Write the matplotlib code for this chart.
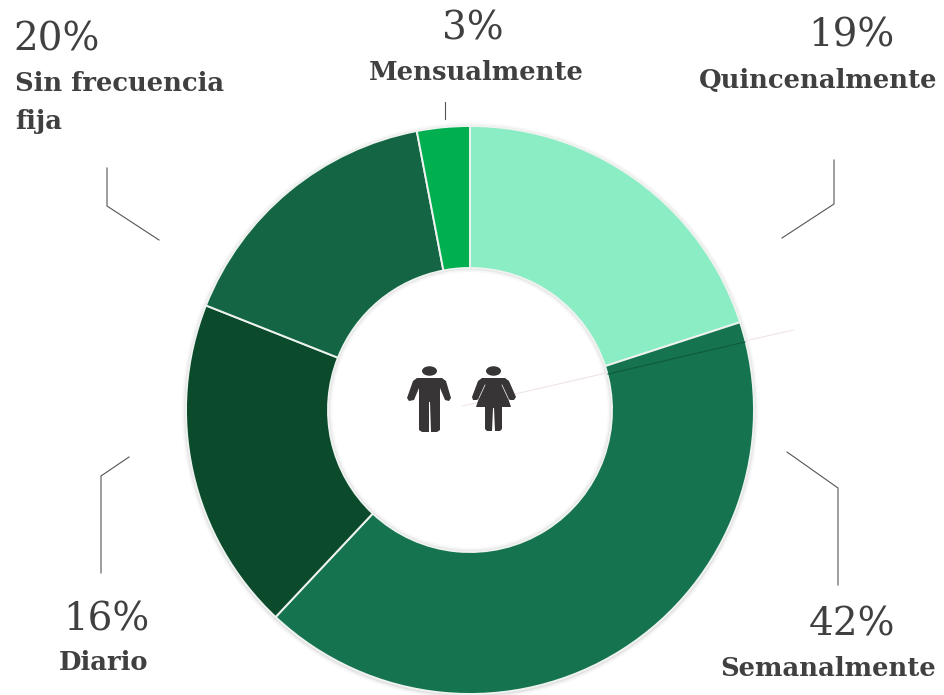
import matplotlib
matplotlib.use("Agg")
import matplotlib.pyplot as plt
from matplotlib.patches import Ellipse, Polygon, Circle

H = 695

# tamaños dibujados de cada sector (no coinciden del todo con los rótulos)
slice_names = ["Quincenalmente", "Semanalmente", "Diario", "Sin frecuencia fija", "Mensualmente"]
slice_values = [20, 42, 19, 16, 3]
slice_colors = ["#8BEDC4", "#167350", "#0C4A2C", "#136543", "#00B050"]

pct_labels = ["19%", "42%", "16%", "20%", "3%"]
name_labels = ["Quincenalmente", "Semanalmente", "Diario", "Sin frecuencia\nfija", "Mensualmente"]
pct_pos = [(851, 36), (852, 625), (106, 620), (57, 40), (473, 29)]
name_pos = [(818, 80), (828, 669), (104, 663), (15, 86), (476, 73)]
name_align = ["center", "center", "center", "left", "center"]

leaders = [
    [(834, 160), (834, 204), (782, 238)],
    [(838, 585), (838, 488), (787, 452)],
    [(101, 573), (101, 476), (129, 457)],
    [(107, 168), (107, 206), (159, 240)],
    [(445, 102), (445, 119)],
]

TXT = "#404040"
ICON = "#383536"


def px(pts):
    return [(x, H - y) for x, y in pts]


fig = plt.figure(figsize=(9.44, 6.95), dpi=100)
ax = fig.add_axes([0, 0, 1, 1])

cx, cy, r_out, r_in = 470, H - 410, 284, 142

# sombra suave del anillo
for lw, a in [(6, 0.04), (3.5, 0.06), (2, 0.08)]:
    ax.add_patch(Circle((cx, cy - 1), r_out, fc="none", ec="#555555", lw=lw, alpha=a, zorder=1))
    ax.add_patch(Circle((cx, cy), r_in, fc="none", ec="#555555", lw=lw, alpha=a, zorder=1))

ax.pie(slice_values, colors=slice_colors, startangle=90, counterclock=False,
       radius=r_out, center=(cx, cy), frame=True,
       wedgeprops=dict(width=r_out - r_in, edgecolor="#EEF3F0", linewidth=1.4, zorder=2))

ax.set_xlim(0, 944)
ax.set_ylim(0, H)
ax.axis("off")

# línea suelta que cruza el centro
ax.plot(*zip(*px([(463, 406), (793, 330)])), color="#EFE3EC", lw=0.8, zorder=1.5)
ax.plot(*zip(*px([(608, 374), (745, 342)])), color="#0F5A3C", lw=0.8, zorder=3)

for pts in leaders:
    ax.plot(*zip(*px(pts)), color="#555555", lw=0.8, zorder=3)

for s, (x, y) in zip(pct_labels, pct_pos):
    ax.text(x, H - y, s, family="DejaVu Serif", fontsize=28, color=TXT, ha="center", va="center")
for s, (x, y), al in zip(name_labels, name_pos, name_align):
    va = "top" if "\n" in s else "center"
    yy = y - 15 if "\n" in s else y
    ax.text(x, H - yy, s, family="DejaVu Serif", weight="bold", fontsize=18.6, color=TXT,
            ha=al, va=va, linespacing=1.66)

# iconos de hombre y mujer
ax.add_patch(Ellipse((429.5, H - 371), 15, 9.5, fc=ICON, ec="none", zorder=4))
man = [(417, 378), (442, 378), (446, 381), (451, 398), (449, 401), (445, 400), (440, 388),
       (440, 430), (437, 432), (431, 432), (430, 402), (429, 402), (429, 432), (422, 432),
       (419, 430), (419, 388), (414, 400), (409, 401), (407, 398), (413, 381)]
ax.add_patch(Polygon(px(man), closed=True, fc=ICON, ec="none", zorder=4))

ax.add_patch(Ellipse((493.5, H - 371), 15, 9.5, fc=ICON, ec="none", zorder=4))
woman = [(482, 378), (505, 378), (509, 381), (516, 397), (514, 400), (510, 400), (508, 398),
       (511, 407), (502, 407), (502, 429), (500, 431), (495, 431), (494, 408), (493, 408),
       (492, 431), (487, 431), (485, 429), (485, 407), (476, 407), (479, 398), (477, 400),
       (473, 400), (472, 397), (478, 381)]
ax.add_patch(Polygon(px(woman), closed=True, fc=ICON, ec="none", zorder=4))
ax.plot(*zip(*px([(485, 385), (479, 398)])), color="white", lw=0.5, zorder=5)
ax.plot(*zip(*px([(502, 385), (508, 398)])), color="white", lw=0.5, zorder=5)

fig.savefig("out.png", dpi=100, facecolor="white")
